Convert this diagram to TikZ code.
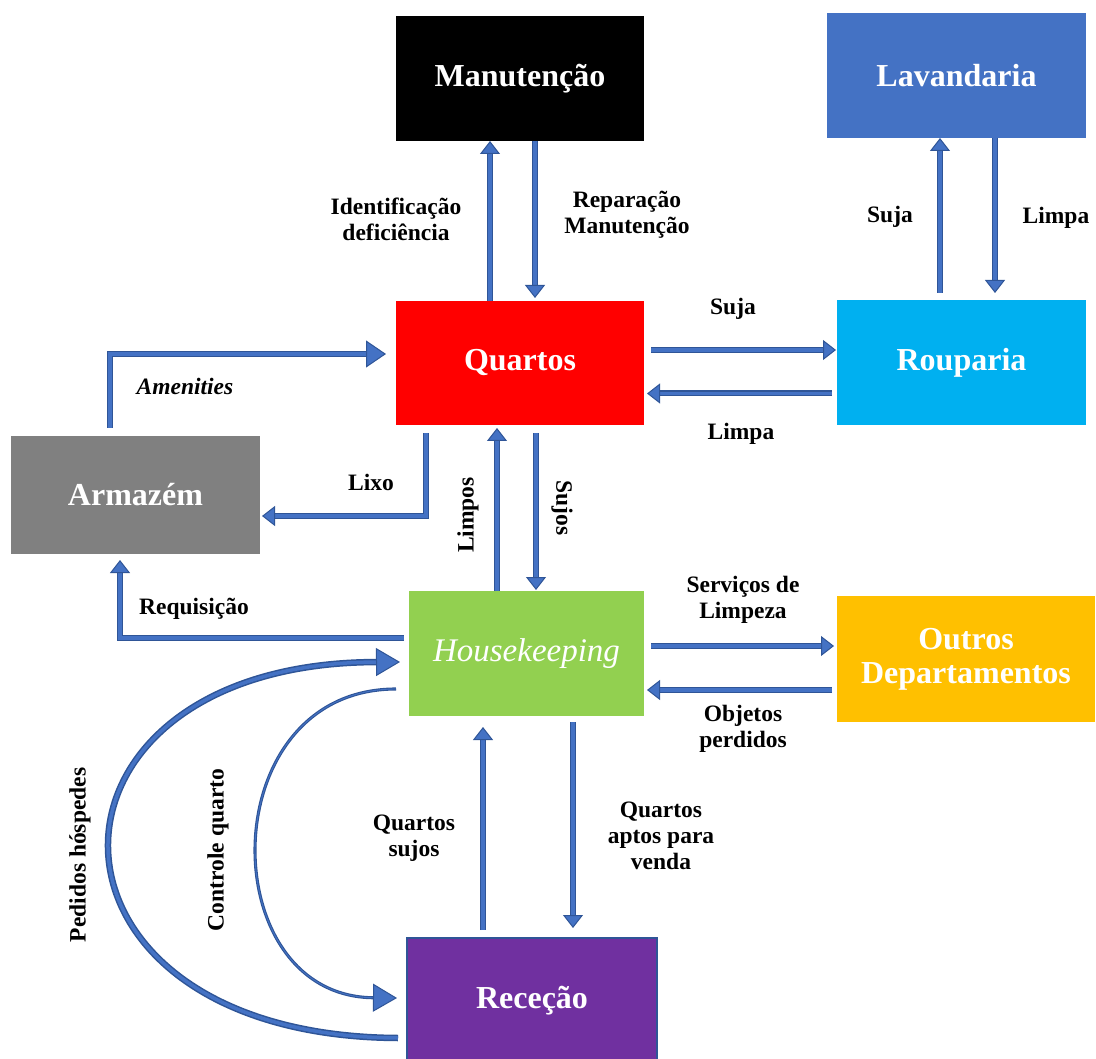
\documentclass[tikz,border=0pt]{standalone}
\usepackage{fontspec}
\setmainfont{Liberation Serif}
\usetikzlibrary{arrows.meta,calc}
\definecolor{db}{HTML}{2F5597}
\definecolor{lb}{HTML}{4472C4}
\definecolor{cLav}{HTML}{4472C4}
\definecolor{cRou}{HTML}{00B0F0}
\definecolor{cArm}{HTML}{808080}
\definecolor{cHK}{HTML}{92D050}
\definecolor{cOut}{HTML}{FFC000}
\definecolor{cRec}{HTML}{7030A0}
\tikzset{
  box/.style={anchor=north west,inner sep=0pt,outer sep=0pt,text=white,
    font=\fontsize{32}{36}\selectfont\bfseries,align=center},
  arr/.style={draw=db,line width=1.3pt,double=lb,double distance=3.4pt,
    -{Triangle[length=13pt,width=20pt,fill=lb,color=db,line width=1pt]}},
  bigarr/.style={draw=db,line width=1.3pt,double=lb,double distance=3.4pt,
    -{Triangle[length=20pt,width=27pt,fill=lb,color=db,line width=1pt]}},
  lbl/.style={font=\fontsize{23.5}{26}\selectfont\bfseries,align=center,inner sep=0pt},
}
\begin{document}
\begin{tikzpicture}[x=1pt,y=-1pt]
\useasboundingbox (0,0) rectangle (1096,1059);
% boxes
\node[box,fill=black,minimum width=248,minimum height=125] (M) at (396,16) {Manutenção};
\node[box,fill=cLav,minimum width=259,minimum height=125] (L) at (827,13) {Lavandaria};
\node[box,fill=red,minimum width=248,minimum height=124] (Q) at (396,301) {Quartos};
\node[box,fill=cRou,minimum width=249,minimum height=125] (R) at (837,300) {Rouparia};
\node[box,fill=cArm,minimum width=249,minimum height=118] (A) at (11,436) {Armazém};
\node[box,fill=cHK,minimum width=235,minimum height=125,font=\fontsize{33}{36}\selectfont\itshape] (H) at (409,591) {Housekeeping};
\node[box,fill=cOut,minimum width=258,minimum height=126,font=\fontsize{32}{34}\selectfont\bfseries] (O) at (837,596) {Outros\\Departamentos};
\node[box,fill=cRec,draw=db,line width=1.5pt,minimum width=250,minimum height=125] (C) at (407,938) {Receção};

% Quartos <-> Manutencao
\draw[arr] ([xshift=-30]Q.north) -- ([xshift=-30]M.south);
\draw[arr] ([xshift=15]M.south) -- ([xshift=15,yshift=3]Q.north);
\node[lbl] (l1) at (396,219) {Identificação\\deficiência};
\node[lbl] (l2) at (627,215) {Reparação\\Manutenção};

% Rouparia <-> Lavandaria
\draw[arr] ([xshift=-21.5,yshift=7]R.north) -- ([xshift=-21.5]R.north |- L.south);
\draw[arr] ([xshift=33.5]R.north |- L.south) -- ([xshift=33.5,yshift=7]R.north);
\node[lbl] (l3) at (890,217) {Suja};
\node[lbl] (l4) at (1056,218) {Limpa};

% Quartos <-> Rouparia
\draw[arr] ([xshift=7,yshift=13]Q.east) -- ([xshift=-1,yshift=13]Q.east -| R.west);
\draw[arr] ([xshift=-5,yshift=-31]R.west) -- ([xshift=3,yshift=-31]R.west -| Q.east);
\node[lbl] (l5) at (733,309) {Suja};
\node[lbl] (l6) at (741,434) {Limpa};

% Armazem -> Quartos (Amenities)
\draw[bigarr] ([xshift=-25.5,yshift=8]A.north) |- ([xshift=-10,yshift=9]Q.west);
\node[lbl,font=\fontsize{23.5}{26}\selectfont\bfseries\itshape] (l7) at (185,386) {Amenities};

% Quartos -> Armazem (Lixo)
\draw[arr] ([xshift=-94,yshift=-8]Q.south) |- ([xshift=2,yshift=-21]A.east);
\node[lbl] (l8) at (371,482) {Lixo};

% Housekeeping <-> Quartos
\draw[arr] ([xshift=-29.5]H.north) -- ([xshift=-29.5,yshift=-3]H.north |- Q.south);
\draw[arr] ([xshift=9.5,yshift=-8]H.north |- Q.south) -- ([xshift=9.5,yshift=1]H.north);
\node[lbl,rotate=90] (l9) at (468,515) {Limpos};
\node[lbl,rotate=-90] (l10) at (562,508) {Sujos};

% Housekeeping -> Armazem (Requisicao)
\draw[arr] ([xshift=-5,yshift=15.5]H.west) -| ([xshift=-15.5,yshift=-6]A.south);
\node[lbl] (l11) at (194,609) {Requisição};

% Housekeeping <-> Outros
\draw[arr] ([xshift=7,yshift=13]H.east |- O.west) -- ([xshift=-3,yshift=13]O.west);
\draw[arr] ([xshift=-5,yshift=-31]O.west) -- ([xshift=3,yshift=-31]O.west -| H.east);
\node[lbl] (l12) at (743,600) {Serviços de\\Limpeza};
\node[lbl] (l13) at (743,729) {Objetos\\perdidos};

% Rececao <-> Housekeeping
\draw[arr] ([xshift=-49,yshift=8]C.north) -- ([xshift=-49,yshift=-11]C.north |- H.south);
\draw[arr] ([xshift=41,yshift=-6]C.north |- H.south) -- ([xshift=41,yshift=10]C.north);
\node[lbl] (l14) at (414,838) {Quartos\\sujos};
\node[lbl] (l15) at (661,836) {Quartos\\aptos para\\venda};

% curves
\draw[draw=db,line width=1.5pt,double=lb,double distance=3.5pt,
  -{Triangle[length=24pt,width=28pt,fill=lb,color=db,line width=1pt]}]
  ([xshift=-9,yshift=-37.5]C.west) .. controls (15,1036) and (15,663) .. ([xshift=-9,yshift=-8.5]H.west);
\draw[draw=db,line width=1.1pt,double=lb,double distance=0.9pt,
  -{Triangle[length=24pt,width=28pt,fill=lb,color=db,line width=1pt]}]
  ([xshift=-13,yshift=-35.5]H.west) .. controls (212,689) and (212,996) .. ([xshift=-10,yshift=2.5]C.west);
\node[lbl,rotate=90] (l16) at (80,855) {Pedidos hóspedes};
\node[lbl,rotate=90] (l17) at (218,850) {Controle quarto};
\end{tikzpicture}
\end{document}
